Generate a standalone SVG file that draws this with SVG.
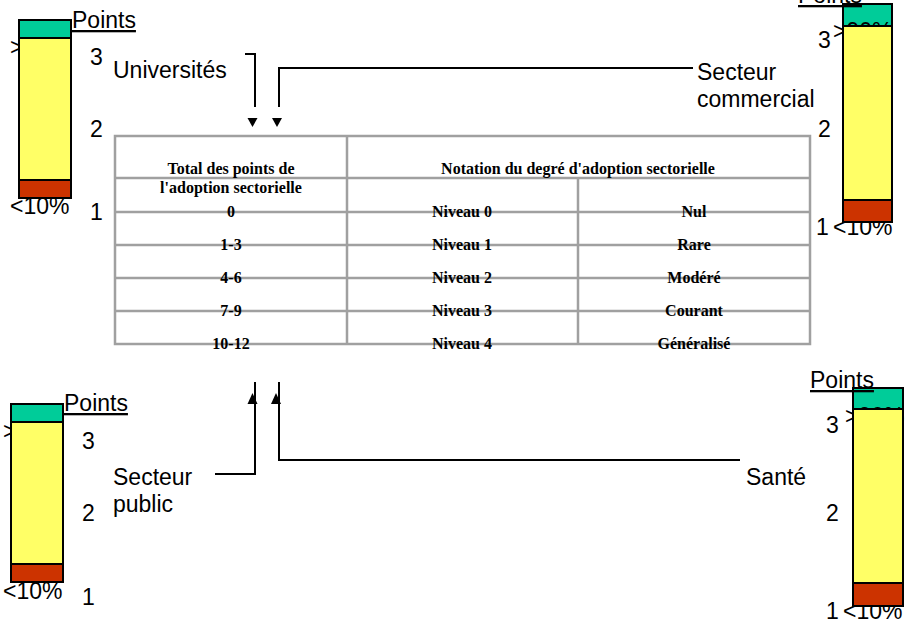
<svg xmlns="http://www.w3.org/2000/svg" width="908" height="621" viewBox="0 0 908 621">
<style>
.s{font-family:"Liberation Sans",Arial,sans-serif;font-size:23px;fill:#000}
.u{text-decoration:underline}
.t{font-family:"Liberation Serif","Times New Roman",serif;font-size:16px;font-weight:bold;fill:#000;text-anchor:middle}
.g{fill:#00cc99;stroke:#000;stroke-width:2}
.y{fill:#ffff66;stroke:#000;stroke-width:2}
.r{fill:#cc3300;stroke:#000;stroke-width:2}
.grid{stroke:#a0a0a0;stroke-width:2.5;fill:none}
.c{stroke:#000;stroke-width:2;fill:none}
</style>
<rect width="908" height="621" fill="#fff"/>

<g id="table">
<rect class="grid" x="115" y="136" width="695" height="208"/>
<path class="grid" d="M347 136V344M578 178V344M115 178H810M115 212H810M115 245H810M115 278H810M115 311H810"/>
<text class="t" x="231" y="174">Total des points de</text>
<text class="t" x="231" y="193">l'adoption sectorielle</text>
<text class="t" x="578" y="174">Notation du degré d'adoption sectorielle</text>
<text class="t" x="231" y="217">0</text>
<text class="t" x="231" y="250">1-3</text>
<text class="t" x="231" y="283">4-6</text>
<text class="t" x="231" y="316">7-9</text>
<text class="t" x="231" y="349">10-12</text>
<text class="t" x="462" y="217">Niveau 0</text>
<text class="t" x="462" y="250">Niveau 1</text>
<text class="t" x="462" y="283">Niveau 2</text>
<text class="t" x="462" y="316">Niveau 3</text>
<text class="t" x="462" y="349">Niveau 4</text>
<text class="t" x="694" y="217">Nul</text>
<text class="t" x="694" y="250">Rare</text>
<text class="t" x="694" y="283">Modéré</text>
<text class="t" x="694" y="316">Courant</text>
<text class="t" x="694" y="349">Généralisé</text>
</g>

<g id="bar-tl">
<rect class="g" x="19" y="20" width="52" height="18"/>
<text class="s" x="10" y="55">&gt;90%</text>
<text class="s u" x="72" y="28">Points</text>
<text class="s" x="90" y="65">3</text>
<text class="s" x="90" y="137">2</text>
<text class="s" x="90" y="220">1</text>
<text class="s" x="10" y="214">&lt;10%</text>
<rect class="y" x="19" y="38" width="52" height="142"/>
<rect class="r" x="19" y="180" width="52" height="18"/>
</g>

<g id="bar-tr">
<rect class="g" x="843" y="4" width="49" height="22"/>
<text class="s" x="833" y="39">&gt;90%</text>
<text class="s u" x="798" y="3">Points</text>
<text class="s" x="818" y="48">3</text>
<text class="s" x="818" y="137">2</text>
<text class="s" x="816" y="235">1</text>
<text class="s" x="833" y="235">&lt;10%</text>
<rect class="y" x="843" y="26" width="49" height="174"/>
<rect class="r" x="843" y="200" width="49" height="22"/>
</g>

<g id="bar-bl">
<rect class="g" x="11" y="404" width="52" height="18"/>
<text class="s" x="3" y="439">&gt;90%</text>
<text class="s u" x="64" y="411">Points</text>
<text class="s" x="82" y="449">3</text>
<text class="s" x="82" y="521">2</text>
<text class="s" x="82" y="605">1</text>
<text class="s" x="3" y="599">&lt;10%</text>
<rect class="y" x="11" y="422" width="52" height="142"/>
<rect class="r" x="11" y="564" width="52" height="18"/>
</g>

<g id="bar-br">
<rect class="g" x="853" y="388" width="50" height="21"/>
<text class="s" x="845" y="424">&gt;90%</text>
<text class="s u" x="810" y="388">Points</text>
<text class="s" x="826" y="433">3</text>
<text class="s" x="826" y="521">2</text>
<text class="s" x="826" y="619">1</text>
<text class="s" x="843" y="619">&lt;10%</text>
<rect class="y" x="853" y="409" width="50" height="174"/>
<rect class="r" x="853" y="583" width="50" height="23"/>
</g>

<g id="label-universites"><text class="s" x="113" y="78">Universités</text></g>
<g id="label-commercial"><text class="s" x="697" y="80">Secteur</text><text class="s" x="697" y="107">commercial</text></g>
<g id="label-public"><text class="s" x="113" y="485">Secteur</text><text class="s" x="113" y="512">public</text></g>
<g id="label-sante"><text class="s" x="746" y="485">Santé</text></g>

<g id="connectors">
<polyline class="c" points="245,54 255,54 255,107"/>
<polygon points="247.5,118 257.5,118 252.5,127"/>
<polyline class="c" points="693,68 279,68 279,107"/>
<polygon points="272,118 282,118 277,127"/>
<polyline class="c" points="215,474 255,474 255,382"/>
<polygon points="247.5,404 257.5,404 252.5,393"/>
<polyline class="c" points="740,460 279,460 279,382"/>
<polygon points="271,404 281,404 276,393"/>
</g>
</svg>
